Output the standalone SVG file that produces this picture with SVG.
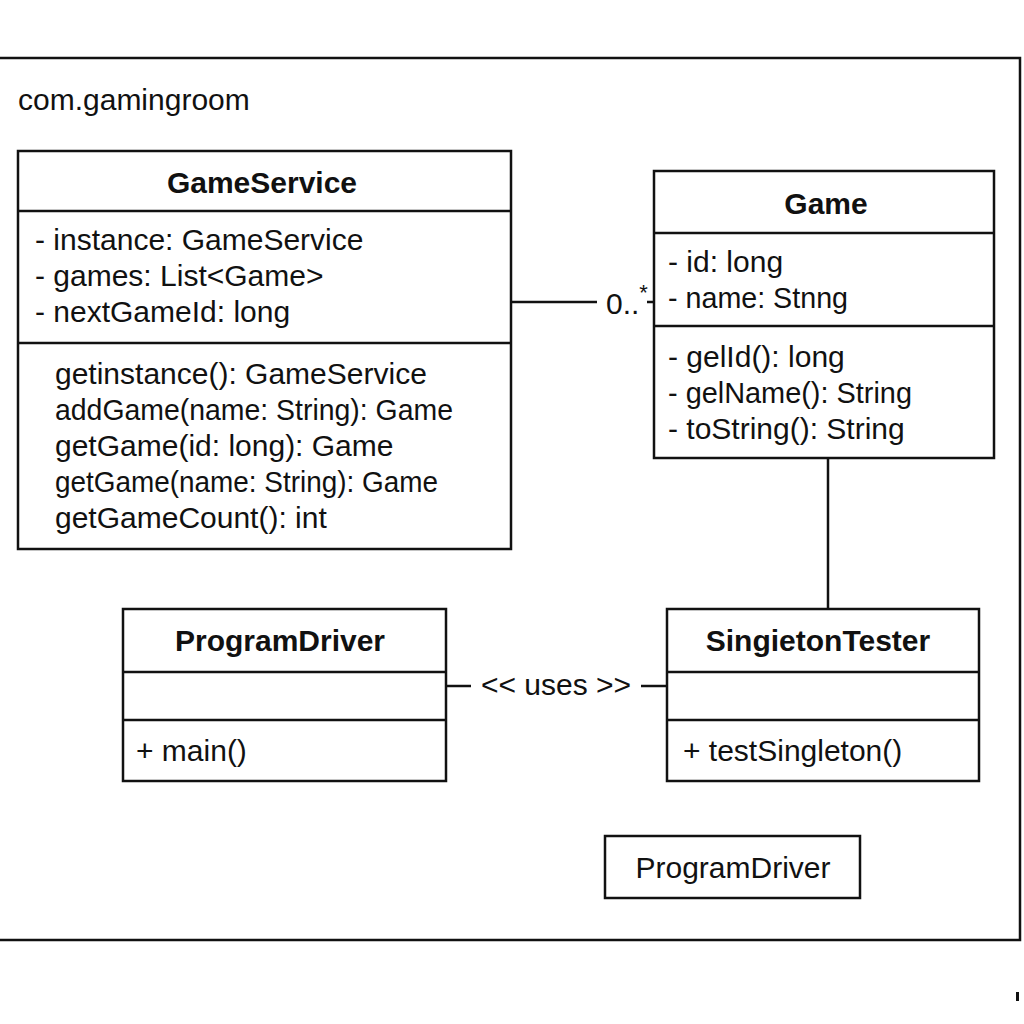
<svg xmlns="http://www.w3.org/2000/svg" width="1024" height="1024" viewBox="0 0 1024 1024">
<style>
.box{fill:#fff;stroke:#111;stroke-width:2.5}
.ln{stroke:#111;stroke-width:2.5;fill:none}
text{font-family:"Liberation Sans",Arial,sans-serif;fill:#111}
.t{font-size:30px;font-weight:bold;text-anchor:middle}
.r{font-size:30px}
</style>
<rect width="1024" height="1024" fill="#fff"/>
<g id="package">
<path class="ln" d="M0 58 H1020 V940 H0" stroke-width="3"/>
<text class="r" x="18" y="110">com.gamingroom</text>
<rect x="1016" y="992" width="3" height="9" fill="#111"/>
</g>
<g id="connectors">
<line class="ln" x1="511" y1="302" x2="597" y2="302"/>
<line class="ln" x1="647" y1="302" x2="654" y2="302"/>
<text class="r" x="606" y="314" font-size="28">0..<tspan font-size="22" dy="-14">*</tspan></text>
<line class="ln" x1="828" y1="458" x2="828" y2="609"/>
<line class="ln" x1="446" y1="686" x2="471" y2="686"/>
<line class="ln" x1="641" y1="686" x2="667" y2="686"/>
<text class="r" x="556" y="695" text-anchor="middle" font-size="28">&lt;&lt; uses &gt;&gt;</text>
</g>
<g id="GameService">
<rect class="box" x="18" y="151" width="493" height="398"/>
<line class="ln" x1="18" y1="211" x2="511" y2="211"/>
<line class="ln" x1="18" y1="343" x2="511" y2="343"/>
<text class="t" x="262" y="193">GameService</text>
<text class="r" x="35" y="250">- instance: GameService</text>
<text class="r" x="35" y="286">- games: List&lt;Game&gt;</text>
<text class="r" x="35" y="322">- nextGameId: long</text>
<text class="r" x="55" y="384">getinstance(): GameService</text>
<text class="r" x="55" y="420" textLength="398" lengthAdjust="spacingAndGlyphs">addGame(name: String): Game</text>
<text class="r" x="55" y="456">getGame(id: long): Game</text>
<text class="r" x="55" y="492" textLength="383" lengthAdjust="spacingAndGlyphs">getGame(name: String): Game</text>
<text class="r" x="55" y="528">getGameCount(): int</text>
</g>
<g id="Game">
<rect class="box" x="654" y="171" width="340" height="287"/>
<line class="ln" x1="654" y1="233" x2="994" y2="233"/>
<line class="ln" x1="654" y1="326" x2="994" y2="326"/>
<text class="t" x="826" y="214">Game</text>
<text class="r" x="668" y="272">- id: long</text>
<text class="r" x="668" y="308" textLength="180" lengthAdjust="spacingAndGlyphs">- name: Stnng</text>
<text class="r" x="668" y="367">- gelId(): long</text>
<text class="r" x="668" y="403" textLength="244" lengthAdjust="spacingAndGlyphs">- gelName(): String</text>
<text class="r" x="668" y="439">- toString(): String</text>
</g>
<g id="ProgramDriver">
<rect class="box" x="123" y="609" width="323" height="172"/>
<line class="ln" x1="123" y1="672" x2="446" y2="672"/>
<line class="ln" x1="123" y1="720" x2="446" y2="720"/>
<text class="t" x="280" y="651">ProgramDriver</text>
<text class="r" x="136" y="761">+ main()</text>
</g>
<g id="SingletonTester">
<rect class="box" x="667" y="609" width="312" height="172"/>
<line class="ln" x1="667" y1="672" x2="979" y2="672"/>
<line class="ln" x1="667" y1="720" x2="979" y2="720"/>
<text class="t" x="818" y="651">SingietonTester</text>
<text class="r" x="683" y="761">+ testSingleton()</text>
</g>
<g id="ProgramDriverNote">
<rect class="box" x="605" y="836" width="255" height="62"/>
<text class="r" x="733" y="878" text-anchor="middle" font-size="31">ProgramDriver</text>
</g>
</svg>
